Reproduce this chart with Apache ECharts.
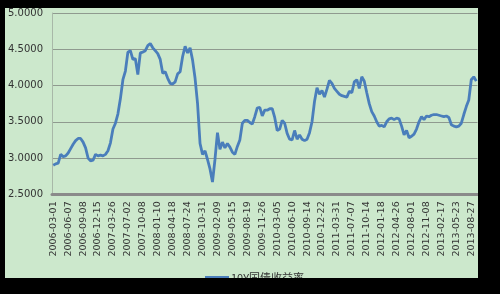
<!DOCTYPE html>
<html><head><meta charset="utf-8">
<script src="https://cdn.jsdelivr.net/npm/echarts@6/dist/echarts.min.js"></script>
<style>
html,body{margin:0;padding:0;background:#000;width:500px;height:294px;overflow:hidden}
#c{position:absolute;left:5px;top:8px;width:473px;height:270px;background:#cce8cc}
</style></head>
<body><div id="c"></div>
<script>
// x-axis tick labels (one every 6 points)
var tickLabels = ['2006-03-01','2006-06-07','2006-09-08','2006-12-15','2007-03-26','2007-07-02','2007-10-08','2008-01-10','2008-04-18','2008-07-24','2008-10-31','2009-02-09','2009-05-15','2009-08-19','2009-11-26','2010-03-05','2010-06-10','2010-09-14','2010-12-22','2011-03-31','2011-07-07','2011-10-14','2012-01-18','2012-04-26','2012-08-01','2012-11-08','2013-02-17','2013-05-23','2013-08-27'];
var seriesName = '10Y国债收益率';
// yield values
var yields = [
2.90,2.92,2.93,3.05,3.02,3.03,
3.07,3.13,3.19,3.24,3.27,3.27,
3.22,3.14,3.00,2.96,2.97,3.05,
3.03,3.04,3.03,3.05,3.10,3.21,
3.40,3.48,3.61,3.82,4.08,4.20,
4.46,4.48,4.36,4.37,4.15,4.45,
4.46,4.48,4.55,4.58,4.52,4.48,
4.44,4.36,4.17,4.19,4.10,4.03,
4.02,4.05,4.16,4.19,4.40,4.54,
4.45,4.52,4.35,4.10,3.75,3.20,
3.05,3.10,2.98,2.85,2.67,2.98,
3.35,3.12,3.22,3.14,3.20,3.15,
3.08,3.05,3.16,3.25,3.48,3.52,
3.52,3.49,3.47,3.57,3.69,3.70,
3.58,3.66,3.66,3.68,3.68,3.56,
3.38,3.40,3.52,3.48,3.34,3.26,
3.25,3.38,3.26,3.32,3.26,3.24,
3.26,3.35,3.50,3.78,3.97,3.88,
3.93,3.84,3.95,4.07,4.03,3.96,
3.92,3.88,3.86,3.85,3.84,3.92,
3.90,4.05,4.08,3.96,4.12,4.06,
3.90,3.75,3.64,3.58,3.50,3.44,
3.45,3.43,3.50,3.54,3.55,3.53,
3.55,3.54,3.44,3.32,3.38,3.28,
3.30,3.33,3.40,3.50,3.57,3.53,
3.58,3.57,3.59,3.60,3.60,3.59,
3.58,3.57,3.58,3.56,3.46,3.44,
3.43,3.44,3.48,3.60,3.71,3.80,
4.08,4.12,4.06
];
var categories = yields.map(function(v,i){
  var k = Math.floor(i/6), r = i%6;
  return r === 0 ? tickLabels[k] : tickLabels[k] + '#' + r;
});
var chart = echarts.init(document.getElementById('c'), null, {renderer:'canvas'});
chart.setOption({
  animation:false,
  backgroundColor:'#cce8cc',
  grid:{left:45, top:5, width:427.5, height:181.3, containLabel:false},
  legend:{
    data:[seriesName], left:195, top:259, icon:'rect', itemWidth:24, itemHeight:3, itemGap:2,
    textStyle:{fontFamily:'Noto Sans CJK SC', fontSize:11, color:'#333', padding:[0,0,0,-3]}
  },
  xAxis:{
    type:'category', data:categories, boundaryGap:true,
    axisLine:{lineStyle:{color:'#8a8a8a', width:3}},
    axisTick:{show:false},
    axisLabel:{interval:5, rotate:90, margin:7, fontFamily:'DejaVu Sans', fontSize:9.5, color:'#333',
      formatter:function(v){return v.indexOf('#')>=0?'':v;}},
    splitLine:{show:false}
  },
  yAxis:{
    type:'value', min:2.5, max:5, interval:0.5,
    axisLine:{show:true, lineStyle:{color:'#a8b8a8', width:1}},
    axisTick:{show:false},
    axisLabel:{margin:9, fontFamily:'DejaVu Sans', fontSize:10, color:'#333',
      formatter:function(v){return v.toFixed(4);}},
    splitLine:{lineStyle:{color:'#8f9a8f', width:1}}
  },
  series:[{
    name:seriesName, type:'line', data:yields, showSymbol:false, symbol:'none',
    lineStyle:{color:'#4a7ebb', width:2.8}, itemStyle:{color:'#4a7ebb'}
  }]
});
</script></body></html>
